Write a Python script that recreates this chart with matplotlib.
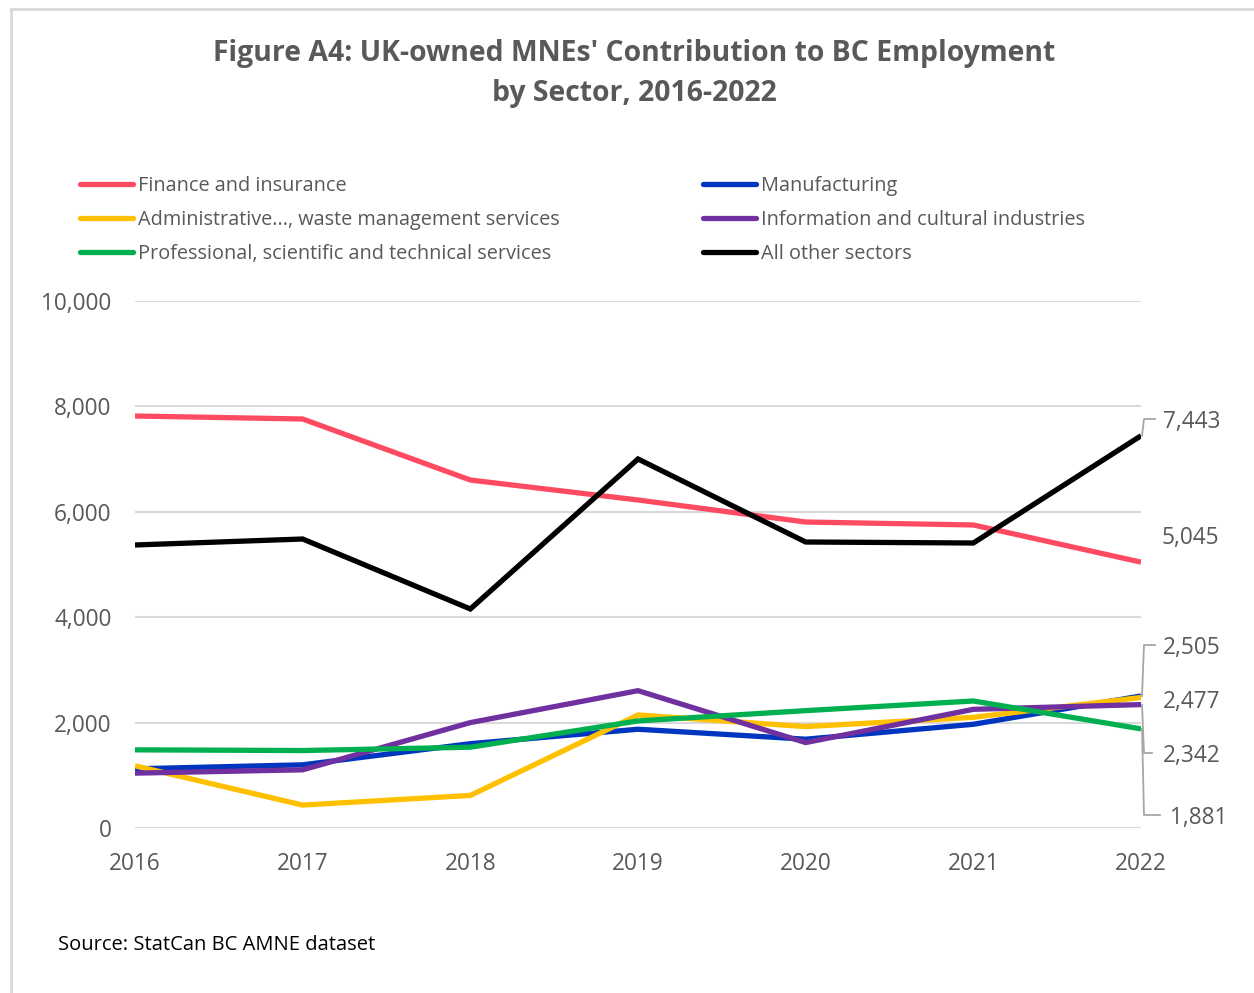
import matplotlib.pyplot as plt
from matplotlib.patches import Rectangle
from matplotlib.lines import Line2D
import numpy as np

plt.rcParams['font.family'] = ['Open Sans', 'DejaVu Sans']

years = [2016, 2017, 2018, 2019, 2020, 2021, 2022]
finance = [7818, 7761, 6603, 6224, 5806, 5750, 5045]
manufacturing = [1123, 1199, 1600, 1874, 1685, 1968, 2505]
admin = [1180, 435, 618, 2145, 1924, 2100, 2477]
info = [1041, 1104, 2000, 2606, 1621, 2252, 2342]
prof = [1483, 1470, 1533, 2032, 2227, 2410, 1881]
other = [5370, 5484, 4156, 7002, 5427, 5408, 7443]

names = ['Finance and insurance', 'Manufacturing',
         'Administrative..., waste management services',
         'Information and cultural industries',
         'Professional, scientific and technical services', 'All other sectors']
series = [finance, manufacturing, admin, info, prof, other]
colors = ['#FF4B61', '#0035C0', '#FFC000', '#7030A0', '#00B050', '#000000']

# end label positions (y in data units) and x offsets (px) for the last point
label_y = {0: 5560, 1: 3472, 2: 2448, 3: 1423, 4: 247, 5: 7761}
label_dx = {0: 21, 1: 22, 2: 22, 3: 22, 4: 29, 5: 22}
leader_end = {1: 14, 3: 11, 4: 19, 5: 14}

grey = '#595959'
W, H = 1254, 993
fig = plt.figure(figsize=(W / 100, H / 100), dpi=100)
ax = fig.add_axes([135 / W, 1 - 828 / H, (1141 - 135) / W, (828 - 301) / H])

for s, c in zip(series, colors):
    ax.plot(years, s, color=c, lw=3.8, solid_capstyle='butt', solid_joinstyle='miter')

ax.set_xlim(2016, 2022)
ax.set_ylim(0, 10000)
ax.set_yticks(np.arange(0, 10001, 2000))
ax.set_yticklabels([f'{v:,}' for v in range(0, 10001, 2000)])
ax.set_xticks(years)
ax.tick_params(length=0, labelsize=16.3, colors=grey)
ax.tick_params(axis='y', pad=17)
for t in ax.get_yticklabels():
    t.set_va('center_baseline')
ax.tick_params(axis='x', pad=17)
ax.grid(axis='y', color='#d9d9d9', lw=1.5)
ax.set_axisbelow(True)
for sp in ax.spines.values():
    sp.set_visible(False)

px = 6 / (1141 - 135)
py = 10000 / (828 - 301)
for i, s in enumerate(series):
    yv = s[-1]
    ly = label_y[i]
    if i in leader_end:
        ax.plot([2022 + 1 * px, 2022 + 3 * px, 2022 + leader_end[i] * px], [yv, ly, ly],
                color='#a6a6a6', lw=1.3, clip_on=False)
    ax.text(2022 + label_dx[i] * px, ly - 3 * py, f'{yv:,}', ha='left', va='center',
            fontsize=16.3, color=grey)

# legend
cols = [(80, 138), (703, 761)]
order = [0, 2, 4, 1, 3, 5]
for k, i in enumerate(order):
    cx, tx = cols[k // 3]
    y = 1 - (184 + 34 * (k % 3)) / H
    fig.add_artist(Line2D([cx / W, (cx + 53) / W], [y, y], color=colors[i], lw=3.8,
                          solid_capstyle='round'))
    fig.text(tx / W, y - 2 / H, names[i], ha='left', va='center', fontsize=14.3, color=grey)

fig.text(634 / W, 1 - 53 / H, "Figure A4: UK-owned MNEs' Contribution to BC Employment",
         ha='center', va='center', fontsize=20.4, fontweight='bold', color=grey)
fig.text(634 / W, 1 - 93 / H, 'by Sector, 2016-2022',
         ha='center', va='center', fontsize=20.4, fontweight='bold', color=grey)
fig.text(58 / W, 1 - 945 / H, 'Source: StatCan BC AMNE dataset',
         ha='left', va='center', fontsize=14.5, color='#000000')

fig.add_artist(Rectangle((11 / W, -0.05), 1.2, 1 - 9 / H + 0.05, transform=fig.transFigure,
                         fill=False, edgecolor='#d9d9d9', lw=2))

fig.savefig('out.png', dpi=100)
